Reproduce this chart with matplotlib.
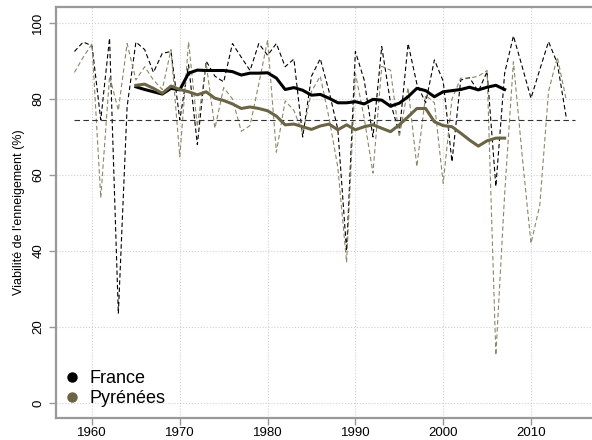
import matplotlib
matplotlib.use('Agg')
import matplotlib.pyplot as plt
from matplotlib.lines import Line2D
import numpy as np

plt.rcParams['font.family'] = ['Liberation Sans', 'DejaVu Sans']

# annual values
years = list(range(1958, 2015))
france = [92.5, 95, 94, 74.5, 96, 23.5, 78, 95, 93, 87,
          92, 92.5, 74.5, 89, 68, 90, 86, 84.5, 94.6, 91,
          87.5, 94.6, 91.5, 94.6, 88.5, 90.5, 70, 86, 90.6, 82,
          72, 40, 92.5, 85, 70, 93.8, 79, 71, 94.6, 84,
          79, 90.3, 84.7, 63.5, 85, 85.6, 82, 87.2, 57, 86.8,
          96.6, 88.5, 80.2, 87.7, 95.1, 89.4, 75.4]
pyrenees = [87, 91, 94.5, 54, 86, 77, 94.6, 85, 88.5, 85,
            82.5, 93, 64.8, 95, 72.7, 89.4, 72.3, 83, 80, 71.5,
            73, 84, 95.5, 66, 79.5, 77, 71, 82, 86, 75,
            62, 37, 86.8, 75, 60.5, 88.6, 87.6, 70, 83, 62.2,
            81, 79, 57.8, 80, 85.5, 85.5, 86, 87.5, 12.6, 55,
            89.8, 65, 42, 52, 82, 91, 80]

# smoothed values
years_s = list(range(1965, 2008))
france_s = [83.2, 82.5, 81.9, 81.3, 82.8, 82.4, 86.8, 87.6, 87.5, 87.5,
            87.5, 87.2, 86.3, 86.8, 86.8, 86.9, 85.5, 82.5, 83, 82.3,
            81, 81.2, 80.2, 79, 79, 79.3, 78.7, 79.9, 79.7, 78.1,
            78.9, 80.6, 82.8, 82.2, 80.6, 81.9, 82.2, 82.5, 83.1, 82.4,
            83.1, 83.6, 82.5]
pyrenees_s = [83.6, 83.9, 82.8, 81.5, 83.4, 82.5, 81.9, 81.1, 81.9, 80.2,
              79.6, 78.7, 77.5, 77.9, 77.5, 76.9, 75.5, 73.2, 73.4, 72.7,
              72, 72.9, 73.4, 71.9, 73.2, 71.9, 72.7, 73.2, 72.3, 71.4,
              73.2, 75.3, 77.5, 77.5, 74, 73, 72.7, 71, 69.2, 67.6,
              69, 69.7, 69.7]

ref_years = [1958, 2015]
ref_value = 74.5

labels = ['France', 'Pyrénées']
col_fr = 'black'
col_py = '#6b6545'
col_py_light = '#8c8766'

fig = plt.figure(figsize=(5.92, 4.4), dpi=100)
ax = fig.add_axes([0.0946, 0.05, 0.9054, 0.934])

ax.plot(years, france, color=col_fr, lw=0.8, ls=(0, (4, 2.5)))
ax.plot(years, pyrenees, color=col_py_light, lw=0.8, ls=(0, (4, 2.5)))
ax.plot(ref_years, [ref_value, ref_value], color='#333333', lw=0.8, ls=(0, (5, 3)))
ax.plot(years_s, france_s, color=col_fr, lw=2.2, solid_joinstyle='round')
ax.plot(years_s, pyrenees_s, color=col_py, lw=2.2, solid_joinstyle='round')

ax.set_xlim(1955.9, 2016.95)
ax.set_ylim(-3.95, 104.2)
ax.set_xticks([1960, 1970, 1980, 1990, 2000, 2010])
ax.set_yticks([0, 20, 40, 60, 80, 100])
ax.grid(True, color='#d0d0d0', ls=':', lw=0.8)
ax.set_axisbelow(True)

ax.spines['right'].set_visible(False)
for s in ['left', 'bottom', 'top']:
    ax.spines[s].set_color('#999999')
    ax.spines[s].set_linewidth(1.6)
ax.tick_params(colors='#999999', length=5, width=1, labelcolor='black', labelsize=9.5)
ax.tick_params(axis='x', pad=1.5)
for t in ax.get_yticklabels():
    t.set_rotation(90)
    t.set_va('center')

ax.set_ylabel("Viabilité de l'enneigement (%)", fontsize=9, labelpad=5)

handles = [Line2D([], [], ls='none', marker='o', ms=6.5, color=col_fr),
           Line2D([], [], ls='none', marker='o', ms=6.5, color=col_py)]
ax.legend(handles, labels, loc='lower left', frameon=False, fontsize=13,
          handlelength=0.8, handletextpad=0.6, labelspacing=0.15, borderaxespad=0.2,
          bbox_to_anchor=(-0.004, 0.0))

fig.savefig('out.png', dpi=100)
